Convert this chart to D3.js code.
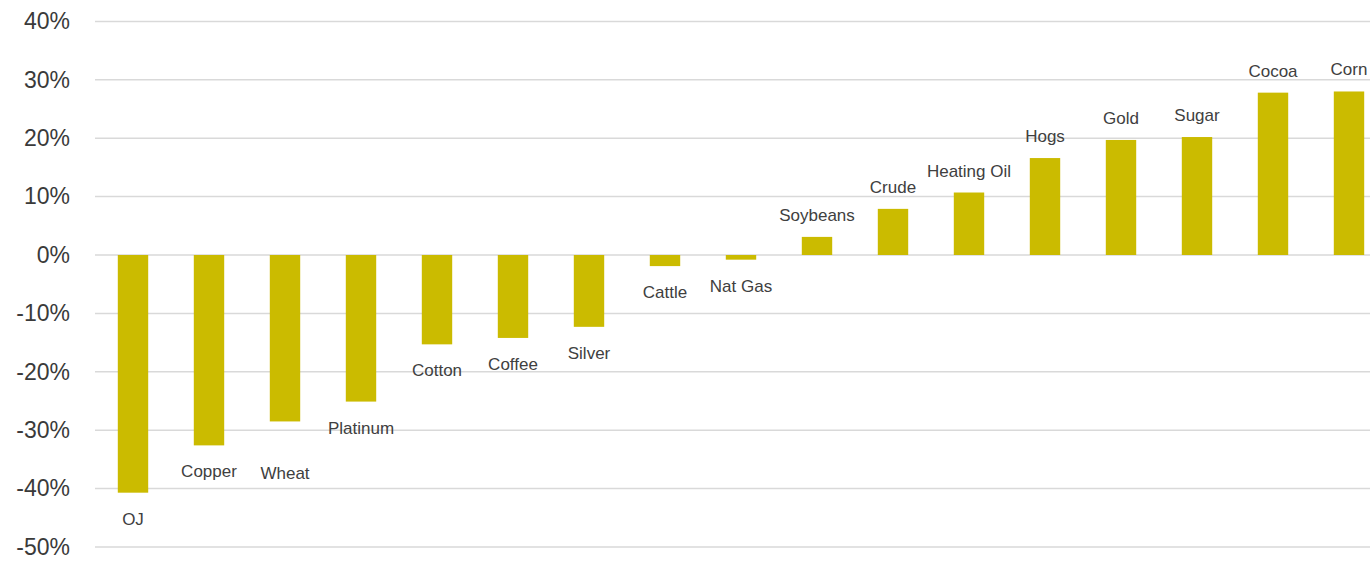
<!DOCTYPE html>
<html>
<head>
<meta charset="utf-8">
<script src="https://cdn.jsdelivr.net/npm/d3@7"></script>
<style>
  body { margin: 0; background: #fff; }
  text { font-family: "Liberation Sans", Arial, sans-serif; }
</style>
</head>
<body>
<script>
  const commodities = ['OJ', 'Copper', 'Wheat', 'Platinum', 'Cotton', 'Coffee', 'Silver', 'Cattle',
    'Nat Gas', 'Soybeans', 'Crude', 'Heating Oil', 'Hogs', 'Gold', 'Sugar', 'Cocoa', 'Corn'];
  const returns = [-40.7, -32.6, -28.5, -25.1, -15.3, -14.2, -12.3, -1.9,
    -0.8, 3.1, 7.9, 10.7, 16.6, 19.7, 20.2, 27.8, 28.0];
  const yTicks = [40, 30, 20, 10, 0, -10, -20, -30, -40, -50];

  // a couple of labels were nudged by hand in the original
  const labelNudge = { Wheat: 26 };

  const width = 1370;
  const height = 564;

  const x = d3.scaleBand()
    .domain(commodities)
    .range([95, 1387])
    .paddingInner(0.6)
    .paddingOuter(0.3);

  const y = d3.scaleLinear().domain([-50, 40]).range([547, 21.4]);

  const svg = d3.select('body').append('svg')
    .attr('width', width)
    .attr('height', height);

  // grid lines
  svg.append('g')
    .selectAll('line')
    .data(yTicks)
    .enter()
    .append('line')
    .attr('x1', 95)
    .attr('x2', width)
    .attr('y1', (d) => y(d))
    .attr('y2', (d) => y(d))
    .attr('stroke', '#d9d9d9')
    .attr('stroke-width', 1.5);

  const yAxis = svg.append('g')
    .attr('transform', 'translate(70,0)')
    .call(d3.axisLeft(y).tickValues(yTicks).tickSize(0).tickPadding(0).tickFormat((d) => d + '%'));
  yAxis.select('.domain').remove();
  yAxis.selectAll('text')
    .attr('font-family', '"Liberation Sans", Arial, sans-serif')
    .attr('font-size', 23)
    .attr('fill', '#3a3a3a');

  const data = commodities.map((name, i) => ({ name, value: returns[i] }));

  svg.append('g')
    .selectAll('rect')
    .data(data)
    .enter()
    .append('rect')
    .attr('x', (d) => x(d.name))
    .attr('width', x.bandwidth())
    .attr('y', (d) => y(Math.max(0, d.value)))
    .attr('height', (d) => Math.abs(y(d.value) - y(0)))
    .attr('fill', '#cbbb00');

  svg.append('g')
    .selectAll('text')
    .data(data)
    .enter()
    .append('text')
    .attr('x', (d) => x(d.name) + x.bandwidth() / 2)
    .attr('y', (d) => d.value < 0
      ? y(d.value) + 32 + (labelNudge[d.name] || 0)
      : y(d.value) - 16)
    .attr('text-anchor', 'middle')
    .attr('font-size', 17)
    .attr('fill', '#404040')
    .text((d) => d.name);
</script>
</body>
</html>
